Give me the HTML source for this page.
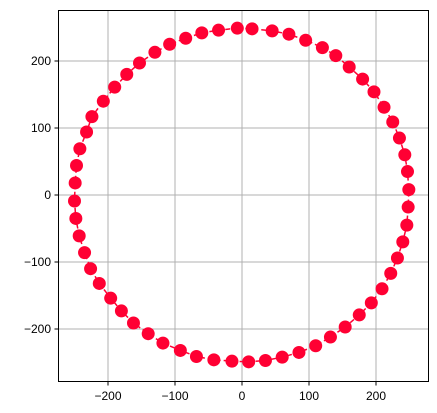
<!DOCTYPE html>
<html><head><meta charset="utf-8"><style>
html,body{margin:0;padding:0;background:#fff;}
svg{display:block;font-family:"Liberation Sans","DejaVu Sans",sans-serif;}
</style></head><body>
<svg id="chart" width="437" height="413">
  <g id="grid"></g>
  <g id="series"></g>
  <rect x="58.5" y="10.5" width="370" height="371" fill="none" stroke="#000" stroke-width="1"/>
  <g id="ticks"></g>
</svg>
<script>
const xs = [-7,15,45,70,95,120,140,160,180,197,212,225,235,243,247,249,248,246,240,232,222,209,193,175,154,132,110,85,60,35,10,-15,-42,-68,-92,-118,-140,-162,-180,-196,-213,-226,-235,-243,-248,-250,-249,-247,-242,-232,-224,-207,-190,-172,-153,-130,-108,-84,-60,-35];
const ys = [249,248,245,240,231,220,208,191,173,154,131,109,85,60,35,8,-18,-45,-70,-94,-117,-140,-161,-179,-197,-212,-225,-235,-242,-247,-249,-248,-246,-241,-232,-221,-207,-191,-173,-154,-132,-110,-86,-61,-35,-9,18,44,69,94,117,140,161,180,197,213,225,234,242,246];
const xTicks = [-200,-100,0,100,200];
const yTicks = [-200,-100,0,100,200];

const X = v => 242 + v*0.67;
const Y = v => 195 - v*0.67;
const NS = "http://www.w3.org/2000/svg";
function mk(tag, attrs, parent){const e=document.createElementNS(NS,tag);for(const k in attrs)e.setAttribute(k,attrs[k]);parent.appendChild(e);return e;}
const grid=document.getElementById('grid'), ticks=document.getElementById('ticks'), series=document.getElementById('series');

xTicks.forEach(t=>{
  const gl=mk('line',{x1:X(t),x2:X(t),y1:10.5,y2:381.5,stroke:'#b0b0b0','stroke-width':1},grid);
  
  
  const tk=mk('line',{x1:X(t),x2:X(t),y1:381.5,y2:385.5,stroke:'#000','stroke-width':1},ticks);
  
  
  const tx=mk('text',{x:X(t),y:400,'text-anchor':'middle','font-size':12,fill:'#000'},ticks);
  tx.textContent=(t<0?'\u2212'+(-t):t);
  
  
});
yTicks.forEach(t=>{
  const gl=mk('line',{x1:58.5,x2:428.5,y1:Y(t),y2:Y(t),stroke:'#b0b0b0','stroke-width':1},grid);
  
  
  const tk=mk('line',{x1:54.5,x2:58.5,y1:Y(t),y2:Y(t),stroke:'#000','stroke-width':1},ticks);
  
  
  const tx=mk('text',{x:51,y:Y(t)+4,'text-anchor':'end','font-size':12,fill:'#000'},ticks);
  tx.textContent=(t<0?'\u2212'+(-t):t);
  
  
});

let pts=xs.map((v,i)=>X(v)+','+Y(ys[i]));
pts.push(pts[0]);
const line=mk('polyline',{points:pts.join(' '),fill:'none',stroke:'#ff0033','stroke-width':1.5,'stroke-dasharray':'5,3'},series);


xs.forEach((v,i)=>{
  const c=mk('circle',{cx:X(v),cy:Y(ys[i]),r:6.5,fill:'#ff0033'},series);
  
  
});
</script>
</body></html>
